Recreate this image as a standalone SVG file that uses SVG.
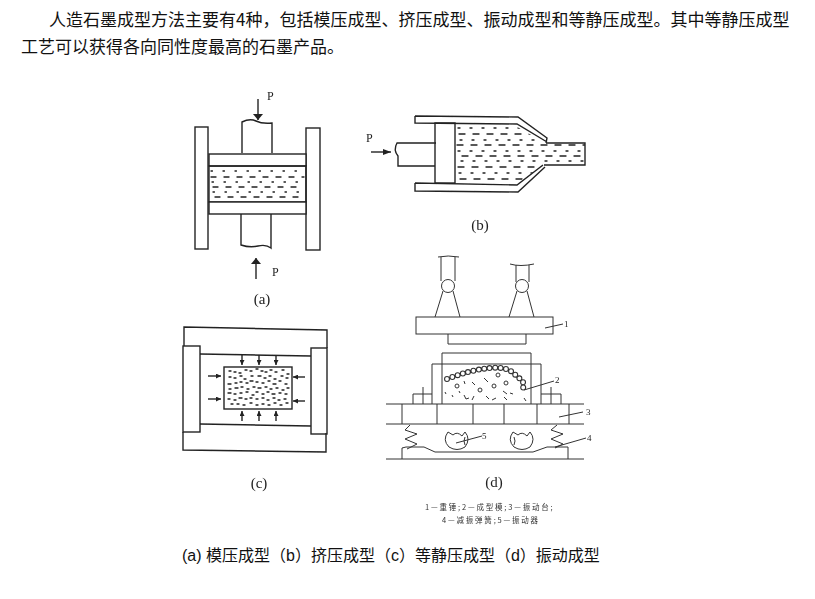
<svg xmlns="http://www.w3.org/2000/svg" width="815" height="599" viewBox="0 0 815 599">
<style>
.t{font-family:"Noto Sans CJK SC","Liberation Sans",sans-serif;font-size:17px;fill:#111}
.c{font-family:"Liberation Sans","Noto Sans CJK SC",sans-serif;font-size:16px;fill:#111}
.s{font-family:"Liberation Serif",serif;fill:#222}
.l{fill:none;stroke:#222;stroke-width:1.400}
.w{fill:#fff;stroke:#222;stroke-width:1.400}
.k{fill:none;stroke:#222;stroke-width:1.300;stroke-linecap:round}
.n{fill:none;stroke:#333;stroke-width:1}
.g{font-family:"Noto Sans CJK SC",sans-serif;font-size:7.500px;fill:#333;letter-spacing:1.800px}
.fig{filter:url(#b)}
</style>
<defs>
<filter id="b" x="-5%" y="-5%" width="110%" height="110%"><feGaussianBlur stdDeviation="0.35"/></filter>
<marker id="a" viewBox="0 0 6 10" refX="6" refY="5" markerWidth="6" markerHeight="10" markerUnits="userSpaceOnUse" orient="auto"><path d="M0 0L6 5L0 10z" fill="#222"/></marker>
<marker id="h" viewBox="0 0 8 6" refX="8" refY="3" markerWidth="8" markerHeight="6" markerUnits="userSpaceOnUse" orient="auto"><path d="M0 0L8 3L0 6z" fill="#222"/></marker>
<marker id="m" viewBox="0 0 5 5" refX="5" refY="2.500" markerWidth="5" markerHeight="5" markerUnits="userSpaceOnUse" orient="auto"><path d="M0 0L5 2.500L0 5z" fill="#222"/></marker>
<clipPath id="bm"><path d="M456 125H514L545 143H585V165H544L516 184H456Z"/></clipPath>
</defs>
<rect width="815" height="599" fill="#fff"/>
<text class="t" x="49" y="26">人造石墨成型方法主要有4种，包括模压成型、挤压成型、振动成型和等静压成型。其中等静压成型</text>
<text class="t" x="21" y="53">工艺可以获得各向同性度最高的石墨产品。</text>
<g id="fig-a" class="fig">
<rect class="l" x="195" y="127" width="13" height="122"/>
<rect class="l" x="306" y="128" width="14" height="122"/>
<path class="l" d="M242 153V122Q250 118 256 121T272 123V153M241 214V245Q250 248 258 246T271 248V214"/>
<rect class="w" x="209" y="154" width="97" height="12"/>
<rect class="l" x="209" y="166" width="97" height="36"/>
<rect class="w" x="209" y="202" width="97" height="12"/>
<path class="k" stroke-dasharray="1.500 10.500" d="M211 171H304M212 182H304M213 192H304"/>
<path class="k" stroke-dasharray="5 8" d="M211 177H304M213 187H304M215 197H304"/>
<path class="l" d="M258 99V120" marker-end="url(#a)"/>
<path class="l" d="M256 279V258" marker-end="url(#a)"/>
<text class="s" x="267" y="100" font-size="12">P</text>
<text class="s" x="272" y="276" font-size="12">P</text>
<text class="s" x="262" y="304" font-size="15" text-anchor="middle">(a)</text>
</g>
<g id="fig-b" class="fig">
<path class="l" d="M415 116L518 117L547 138L546 143M415 116V123L517 124L547 142M415 183V191L518 192L545 167M415 183L517 185L543 165"/>
<rect class="l" x="435" y="123" width="20" height="60"/>
<path class="l" d="M436 143H397Q393 150 398 156V166H435"/>
<path class="l" d="M546 143H585V165H544"/>
<g clip-path="url(#bm)">
<path class="k" stroke-dasharray="2 10" d="M458 128H585M460 140H585M458 151H585M461 161H585M459 173H585"/>
<path class="k" stroke-dasharray="6 8" d="M459 134H585M457 145H585M462 156H585M458 167H585M460 179H585"/>
</g>
<path class="l" d="M371 152H391" marker-end="url(#h)"/>
<text class="s" x="366" y="142" font-size="12">P</text>
<text class="s" x="480" y="230" font-size="15" text-anchor="middle">(b)</text>
</g>
<g id="fig-c" class="fig">
<path class="l" d="M184 346V327L327 330V348M183 432V450L326 452V433M200 354L311 356M200 424L311 426"/>
<rect class="l" x="183" y="346" width="17" height="86"/>
<rect class="l" x="311" y="348" width="16" height="86"/>
<rect class="l" x="224" y="367" width="68" height="42"/>
<path class="k" d="M229 371h2M234 372h2M239 373h2M245 370h2M250 371h2M256 369h2M261 371h2M265 372h2M270 370h2M275 372h2M282 370h2M287 374h2M229 377h2M234 378h2M240 376h2M244 379h2M251 376h2M258 376h3M264 378h2M269 376h2M274 379h2M281 376h2M286 378h2M228 384h3M235 383h2M240 382h2M246 383h2M250 381h3M256 382h2M262 383h2M268 381h2M273 384h3M279 381h2M285 384h2M229 389h2M235 388h3M241 387h2M247 389h2M253 387h2M258 388h3M265 387h2M270 389h2M276 388h2M282 390h2M287 388h2M228 393h3M234 394h2M240 393h2M246 392h2M252 395h2M256 392h2M262 394h2M267 392h2M272 394h3M279 393h2M285 394h2M228 399h2M234 400h2M239 398h3M245 399h2M250 398h2M256 399h2M262 398h2M267 400h2M273 398h2M278 400h2M284 399h2M231 404h2M237 404h2M243 405h2M250 403h2M256 405h2M262 404h2M268 405h2M274 403h2M280 405h2M286 403h2"/>
<path class="l" d="M242 355V365" marker-end="url(#m)"/><path class="l" d="M259 355V365" marker-end="url(#m)"/><path class="l" d="M276 356V365" marker-end="url(#m)"/><path class="l" d="M242 421V411" marker-end="url(#m)"/><path class="l" d="M259 421V411" marker-end="url(#m)"/><path class="l" d="M276 421V411" marker-end="url(#m)"/><path class="l" d="M208 376H221" marker-end="url(#m)"/><path class="l" d="M208 399H221" marker-end="url(#m)"/><path class="l" d="M305 377H293" marker-end="url(#m)"/><path class="l" d="M305 401H293" marker-end="url(#m)"/>
<text class="s" x="259" y="488" font-size="15" text-anchor="middle">(c)</text>
</g>
<g id="fig-d" class="fig">
<path class="n" d="M441 257V281M455 257V281M438 257Q448 255 459 257M516 265V282M529 265V282M510 264Q520 267 534 264"/>
<circle class="n" cx="448" cy="286" r="6.500"/><circle class="n" cx="522" cy="286" r="6.500"/>
<path class="n" d="M443 291L435 317M453 291L460 317M517 291L509 317M527 291L534 317"/>
<rect class="n" x="416" y="317" width="137" height="17"/>
<path class="n" d="M448 334V344H526V334"/>
<path class="n" d="M442 404V353H531V404M432 404V364H541V404"/>
<path fill="none" stroke="#333" stroke-width="6" stroke-linecap="round" stroke-dasharray="0 5.500" d="M447 379Q470 370 490 368T517 377Q527 382 522 390"/>
<path fill="none" stroke="#fff" stroke-width="3.800" stroke-linecap="round" stroke-dasharray="0 5.500" d="M447 379Q470 370 490 368T517 377Q527 382 522 390"/>
<g class="n"><circle cx="457" cy="386" r="2"/><circle cx="480" cy="390" r="2"/><circle cx="494" cy="386" r="2"/><circle cx="506" cy="383" r="2"/><circle cx="498" cy="375" r="2"/></g>
<path class="n" d="M464 381l1 3M472 382l3 3M484 378l4 4M445 392l1 2M452 395l1 2M464 395l2 4l3 -1M472 400l2 -4M486 396l3 3M492 400l4 -2M503 391l4 3M510 393l3 1M524 398l2 3M504 397l3 3M459 391l1 2"/>
<path class="n" d="M413 404V394H432M423 387V404M541 394H561V404M551 387V404"/>
<path class="n" d="M386 404H584M386 424H584M402 404V424M437 404V424M473 404V424M504 404V424M537 404V424M569 404V424"/>
<path class="n" d="M410 425L405 430L417 434L405 439L417 444L407 449M557 425L551 430L563 434L551 439L563 444L555 448"/>
<path class="n" stroke-width="1.200" d="M402 459V448L406 447H424L435 452H533L547 447H568V459M386 459H584"/>
<path class="n" stroke-width="1.500" d="M448 432Q442 440 449 447Q457 452 465 447Q471 439 465 432L462 436Q457 431 453 435ZM465 437Q463 441 465 445M513 432Q507 440 514 447Q522 452 530 447Q536 439 530 432L527 436Q522 431 518 435ZM514 437Q516 441 514 445"/>
<path class="n" stroke-width=".8" d="M545 328L563 324M524 390L554 381M559 417L583 412M555 447L586 438M456 443L482 436"/>
<g class="s" font-size="9"><text x="564" y="327">1</text><text x="555" y="383">2</text><text x="586" y="415">3</text><text x="587" y="441">4</text><text x="482" y="439">5</text></g>
<text class="s" x="494" y="487" font-size="15" text-anchor="middle">(d)</text>
<text class="g" x="425" y="510">1—重锤;2—成型模;3—振动台;</text>
<text class="g" x="442" y="523">4—减振弹簧;5—振动器</text>
</g>
<text class="c" x="182" y="561">(a) 模压成型（b）挤压成型（c）等静压成型（d）振动成型</text>
</svg>
